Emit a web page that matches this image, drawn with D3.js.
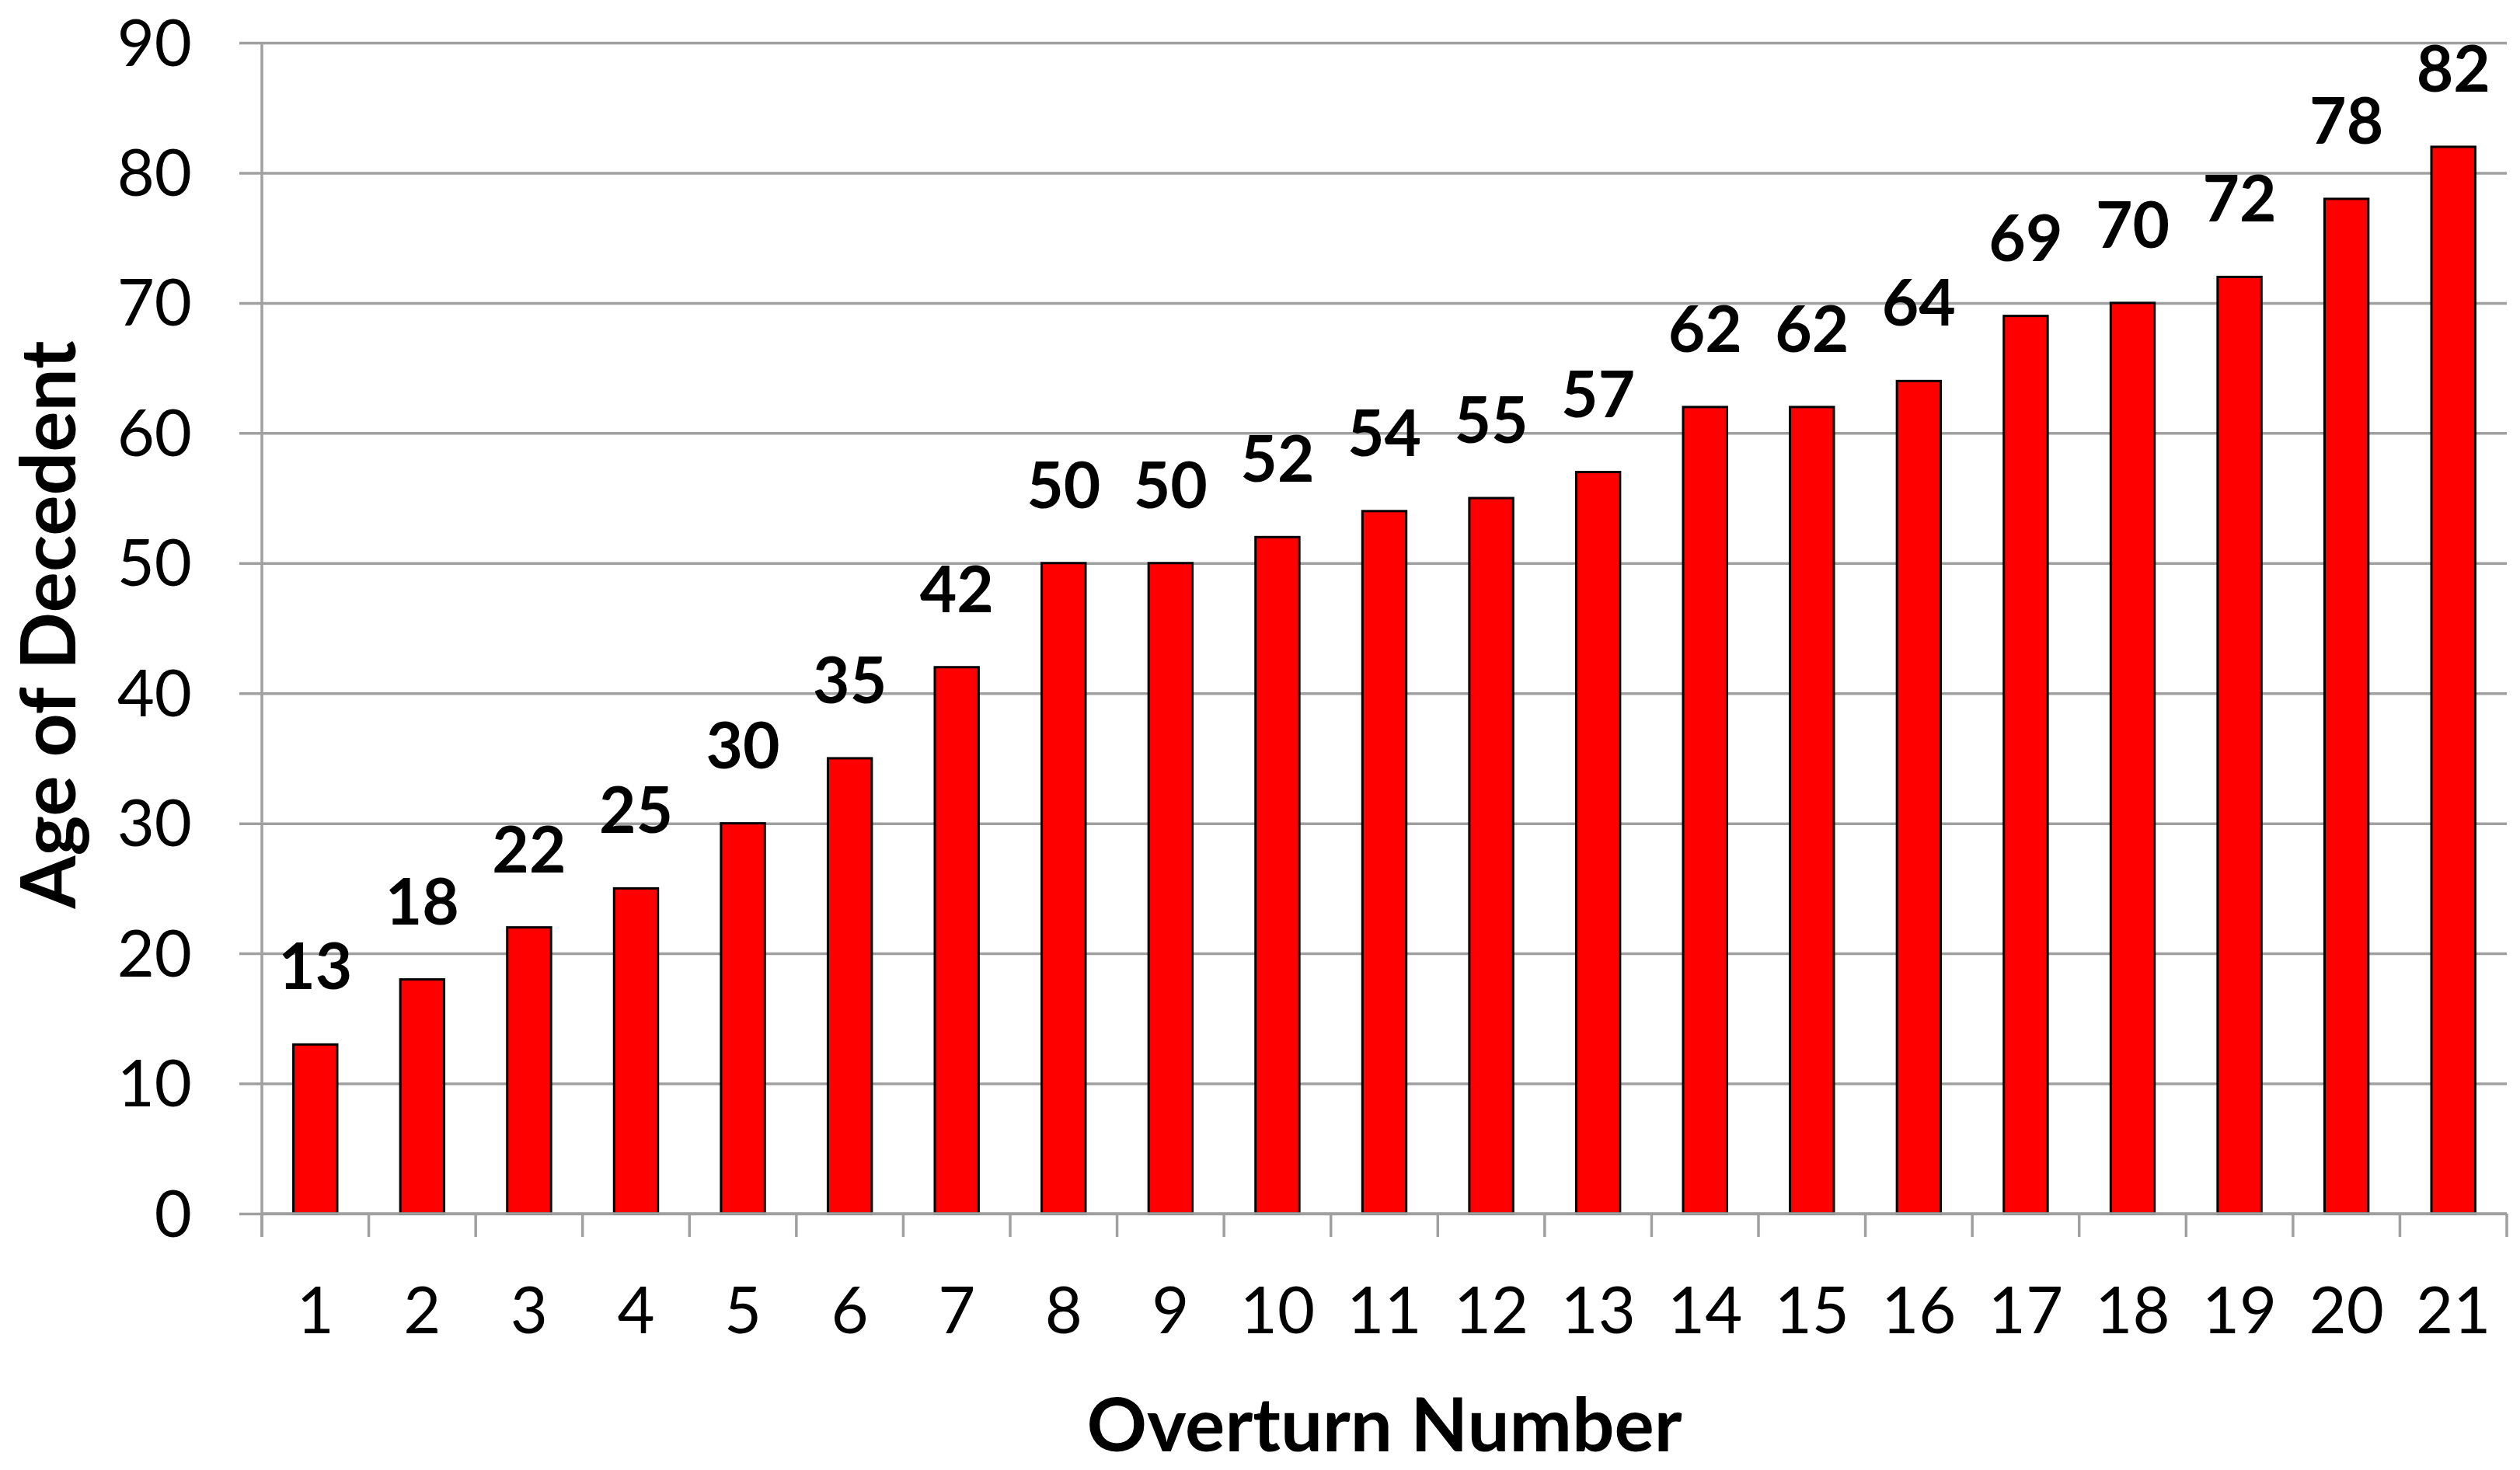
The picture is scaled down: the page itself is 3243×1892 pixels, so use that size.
<!DOCTYPE html>
<html>
<head>
<meta charset="utf-8">
<script src="https://cdn.jsdelivr.net/npm/d3@7"></script>
<style>
  html, body { margin: 0; padding: 0; background: #fff; }
  svg { display: block; }
</style>
</head>
<body>
<svg id="chart" width="3243" height="1892"></svg>
<script>
// ---- data ----
const categories = ["1","2","3","4","5","6","7","8","9","10","11","12","13","14","15","16","17","18","19","20","21"];
const ages = [13,18,22,25,30,35,42,50,50,52,54,55,57,62,62,64,69,70,72,78,82];
const yTicks = [0,10,20,30,40,50,60,70,80,90];
const xTitle = "Overturn Number";
const yTitle = "Age of Decedent";

// ---- layout ----
const plotLeft = 337, plotRight = 3226, plotTop = 55, plotBottom = 1562;
const FONT = "Lato, 'Open Sans', sans-serif";
const gridColor = "#a0a0a0";

const svg = d3.select("#chart");

const x = d3.scaleBand().domain(categories).range([plotLeft, plotRight])
  .paddingInner(0.59).paddingOuter(0.295);
const y = d3.scaleLinear().domain([0, 90]).range([plotBottom, plotTop]);

// gridlines + y axis ticks/labels
const yAxis = d3.axisLeft(y).tickValues(yTicks).tickSize(-(plotRight - plotLeft)).tickPadding(90).tickSizeOuter(0);
const gy = svg.append("g").attr("transform", `translate(${plotLeft},0)`).call(yAxis);
gy.select(".domain").remove();
gy.selectAll(".tick line").attr("x1", -29).attr("stroke", gridColor).attr("stroke-width", 3.5);
gy.selectAll(".tick text")
  .attr("font-family", FONT).attr("font-size", 83).attr("fill", "#000")
  .attr("dy", 0).attr("y", 29)
  .attr("text-anchor", "end");

// y axis line
svg.append("line").attr("x1", plotLeft).attr("x2", plotLeft).attr("y1", y(90)).attr("y2", plotBottom + 30)
  .attr("stroke", gridColor).attr("stroke-width", 3.5);

// bars
svg.append("g").selectAll("rect").data(ages).join("rect")
  .attr("x", (d, i) => x(categories[i]))
  .attr("width", x.bandwidth())
  .attr("y", d => y(d))
  .attr("height", d => y(0) - y(d))
  .attr("fill", "#ff0000")
  .attr("stroke", "#000")
  .attr("stroke-width", 3);

// x axis
const xAxis = d3.axisBottom(x).tickSize(0).tickSizeOuter(0);
const gx = svg.append("g").attr("transform", `translate(0,${plotBottom})`).call(xAxis);
gx.select(".domain").attr("stroke", gridColor).attr("stroke-width", 3.5)
  .attr("d", `M${plotLeft},0H${plotRight}`);
gx.selectAll(".tick text")
  .attr("font-family", FONT).attr("font-size", 83).attr("fill", "#000")
  .attr("dy", 0).attr("y", 154);

// boundary ticks
const step = x.step();
const boundaries = d3.range(categories.length + 1).map(i => plotLeft + i * step);
svg.append("g").selectAll("line").data(boundaries).join("line")
  .attr("x1", d => d).attr("x2", d => d)
  .attr("y1", plotBottom).attr("y2", plotBottom + 30)
  .attr("stroke", gridColor).attr("stroke-width", 3.5);

// data labels
svg.append("g").selectAll("text").data(ages).join("text")
  .attr("x", (d, i) => x(categories[i]) + x.bandwidth() / 2)
  .attr("y", d => y(d) - 71)
  .attr("text-anchor", "middle")
  .attr("font-family", FONT).attr("font-weight", 700).attr("font-size", 82)
  .attr("fill", "#000")
  .text(d => d);

// axis titles
svg.append("text")
  .attr("x", (plotLeft + plotRight) / 2).attr("y", 1868)
  .attr("text-anchor", "middle")
  .attr("font-family", FONT).attr("font-weight", 700).attr("font-size", 96)
  .attr("fill", "#000")
  .text(xTitle);

svg.append("text")
  .attr("transform", "translate(97,804) rotate(-90)")
  .attr("text-anchor", "middle")
  .attr("font-family", FONT).attr("font-weight", 700).attr("font-size", 98)
  .attr("fill", "#000")
  .text(yTitle);
</script>
</body>
</html>
